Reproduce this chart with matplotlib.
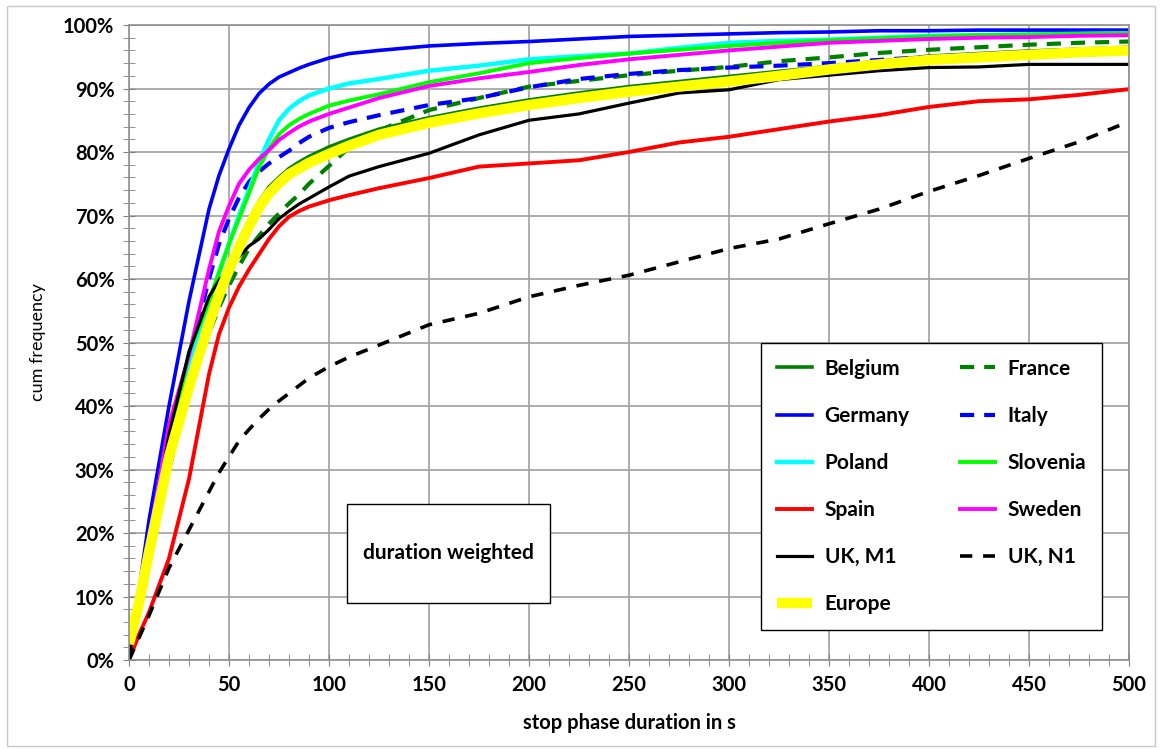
import matplotlib
matplotlib.use("Agg")
import matplotlib.pyplot as plt
from matplotlib.ticker import MultipleLocator, FuncFormatter
from matplotlib.patches import Rectangle

plt.rcParams['font.family'] = ['Lato', 'DejaVu Sans']

# stop phase duration in s (shared grid)
duration = [0, 5, 10, 20, 30, 40, 45, 50, 55, 60, 65, 70, 75, 80, 85, 90, 100, 110,
            125, 150, 175, 200, 225, 250, 275, 300, 325, 350, 375, 400, 425, 450, 475, 500]

# cumulative frequency in %
belgium = [1, 9, 17.5, 33, 44.5, 54, 58.3, 62.3, 66, 69.2, 72.2, 74.5, 76, 77.4, 78.4, 79.3, 80.8, 82,
           83.6, 85.4, 86.9, 88.2, 89.3, 90.3, 91.1, 91.9, 92.7, 93.5, 94.3, 95.1, 95.5, 95.9, 96.2, 96.5]
france = [0.5, 7.5, 15, 30, 42.5, 51.5, 55.5, 59, 62, 64.8, 66.8, 68.7, 70.3, 71.9, 73.3, 75, 77.8, 80.7,
          83.4, 86.6, 88.5, 90.3, 91.2, 92.1, 92.8, 93.4, 94.3, 94.9, 95.6, 96.1, 96.5, 96.9, 97.2, 97.4]
germany = [0.5, 11, 22, 40, 56.5, 71, 76.3, 80.5, 84.2, 87, 89.2, 90.7, 91.8, 92.5, 93.2, 93.8, 94.8, 95.5,
           96, 96.7, 97.1, 97.4, 97.8, 98.2, 98.4, 98.6, 98.8, 98.9, 99.1, 99.1, 99.2, 99.2, 99.2, 99.2]
italy = [0.5, 9, 18, 35, 47.5, 60, 65.5, 69.5, 72.8, 75.3, 76.9, 78.2, 79.2, 80.2, 81.4, 82.4, 83.8, 84.7,
         85.8, 87.4, 88.5, 90.2, 91.5, 92.3, 92.9, 93.3, 93.6, 94, 94.5, 95, 95.4, 95.8, 96, 96.3]
poland = [0.5, 9, 18, 34, 47, 56, 61, 65.5, 70, 74, 78.5, 82, 85, 86.8, 88, 88.9, 90, 90.8,
          91.5, 92.8, 93.6, 94.6, 95.1, 95.5, 96.4, 97.2, 97.5, 97.7, 98, 98.3, 98.4, 98.5, 98.6, 98.7]
slovenia = [0.5, 8.5, 17, 33, 48.5, 56.5, 61, 65.5, 69.5, 73.5, 77.6, 80.5, 82.8, 84.2, 85.2, 86, 87.3, 88.1,
            89.1, 91, 92.4, 94, 94.8, 95.5, 96.1, 96.7, 97.2, 97.6, 97.9, 98.2, 98.4, 98.5, 98.6, 98.7]
spain = [0, 4, 7.5, 16, 28.5, 45, 51.3, 55.5, 58.8, 61.5, 63.9, 66.3, 68.3, 69.8, 70.7, 71.4, 72.4, 73.2,
         74.3, 75.9, 77.7, 78.2, 78.7, 80, 81.5, 82.4, 83.6, 84.8, 85.8, 87.1, 88, 88.3, 89, 89.9]
sweden = [0.5, 10, 19, 37, 48, 61.5, 67.5, 71.5, 75, 77.2, 78.9, 80.3, 81.9, 83, 84, 84.8, 86, 87,
          88.5, 90.4, 91.6, 92.6, 93.7, 94.6, 95.3, 96, 96.6, 97.2, 97.5, 97.8, 98, 98.1, 98.3, 98.4]
uk_m1 = [0.5, 9, 17.5, 35.5, 48.5, 57.2, 59.8, 61.6, 63.5, 65.2, 66.3, 67.8, 69.5, 70.7, 71.8, 72.7, 74.5, 76.2,
         77.7, 79.8, 82.7, 85, 86, 87.7, 89.3, 89.8, 91.4, 92.1, 92.8, 93.3, 93.4, 93.8, 93.8, 93.8]
uk_n1 = [0, 3.5, 7, 14.5, 20.5, 26.5, 29.5, 32, 34.5, 36.3, 38, 39.5, 40.8, 42, 43.2, 44.4, 46.2, 47.7,
         49.6, 52.8, 54.6, 57.2, 59, 60.6, 62.7, 64.8, 66.3, 68.7, 71, 73.8, 76.3, 79, 81.6, 84.8]
europe = [2.5, 9, 17, 32, 43, 53, 57.5, 61.5, 65, 68.3, 71.3, 73.5, 75.1, 76.5, 77.4, 78.3, 79.7, 81,
          82.7, 84.6, 86.1, 87.4, 88.5, 89.5, 90.3, 91.1, 92, 93, 93.8, 94.5, 94.9, 95.3, 95.7, 96]

fig = plt.figure(figsize=(11.6, 7.49), dpi=100)
ax = fig.add_axes([0.1112, 0.1188, 0.8621, 0.8478])

dash_long = (0, (3.4, 2.4))
lines = {}
lines['Belgium'] = ax.plot(duration, belgium, color='#008000', lw=2.6)[0]
lines['France'] = ax.plot(duration, france, color='#008000', lw=3, ls=dash_long)[0]
lines['Germany'] = ax.plot(duration, germany, color='#0000FF', lw=2.6)[0]
lines['Italy'] = ax.plot(duration, italy, color='#0000FF', lw=3, ls=dash_long)[0]
lines['Poland'] = ax.plot(duration, poland, color='#00FFFF', lw=3.2)[0]
lines['Slovenia'] = ax.plot(duration, slovenia, color='#00FF00', lw=2.8)[0]
lines['Spain'] = ax.plot(duration, spain, color='#FF0000', lw=2.8)[0]
lines['Sweden'] = ax.plot(duration, sweden, color='#FF00FF', lw=2.8)[0]
lines['UK, M1'] = ax.plot(duration, uk_m1, color='black', lw=2.3)[0]
lines['UK, N1'] = ax.plot(duration, uk_n1, color='black', lw=2.6, ls=(0, (3.4, 3)))[0]
lines['Europe'] = ax.plot(duration, europe, color='#FFFF00', lw=7.5, solid_capstyle='butt')[0]

ax.set_xlim(0, 500)
ax.set_ylim(0, 100)
ax.xaxis.set_major_locator(MultipleLocator(50))
ax.xaxis.set_minor_locator(MultipleLocator(10))
ax.yaxis.set_major_locator(MultipleLocator(10))
ax.yaxis.set_minor_locator(MultipleLocator(2))
ax.yaxis.set_major_formatter(FuncFormatter(lambda v, p: '%d%%' % v))
ax.grid(True, which='major', color='#a0a0a0', lw=1.2)
ax.set_axisbelow(True)
ax.tick_params(which='both', direction='inout', color='#808080', labelsize=14.5, pad=6)
ax.tick_params(which='major', length=9)
ax.tick_params(which='minor', length=8)
for s in ax.spines.values():
    s.set_color('#909090')
    s.set_linewidth(1.2)
for lab in ax.get_xticklabels() + ax.get_yticklabels():
    lab.set_fontweight('bold')

ax.set_xlabel('stop phase duration in s', fontsize=14.5, fontweight='bold', labelpad=13)
ax.set_ylabel('cum frequency', fontsize=13, labelpad=12)

order = ['Belgium', 'Germany', 'Poland', 'Spain', 'UK, M1', 'Europe',
         'France', 'Italy', 'Slovenia', 'Sweden', 'UK, N1']
leg = ax.legend([lines[k] for k in order], order, ncol=2, loc='upper left',
                bbox_to_anchor=(0.632, 0.499, 0.341, 0), mode='expand',
                fancybox=False, edgecolor='black', framealpha=1,
                prop={'weight': 'bold', 'size': 15}, labelspacing=1.3,
                handlelength=1.7, handletextpad=0.6, columnspacing=0.8,
                borderpad=0.75, borderaxespad=0)
leg.get_frame().set_linewidth(1.0)

ax.add_patch(Rectangle((0.218, 0.09), 0.203, 0.156, transform=ax.transAxes,
                       facecolor='white', edgecolor='black', lw=1.0, zorder=5))
ax.text(0.3195, 0.168, 'duration weighted', transform=ax.transAxes, ha='center',
        va='center', fontsize=15, fontweight='bold', zorder=6)

fig.patches.append(Rectangle((0.006, 0.004), 0.99, 0.988, transform=fig.transFigure,
                             fill=False, edgecolor='#c8c8c8', lw=1.0))

fig.savefig('out.png', dpi=100)
